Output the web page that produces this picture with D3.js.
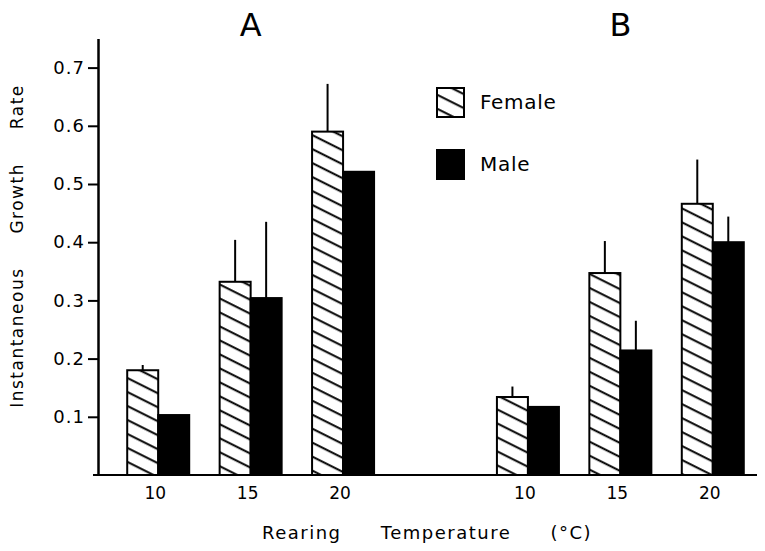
<!DOCTYPE html>
<html>
<head>
<meta charset="utf-8">
<script src="https://cdn.jsdelivr.net/npm/d3@7"></script>
<style>
  body { margin: 0; background: #fff; }
  text { font-family: "DejaVu Sans", sans-serif; fill: #000; }
</style>
</head>
<body>
<div id="chart"></div>
<script>
const panels = ["A", "B"];
const temps = [10, 15, 20];
const sexes = ["Female", "Male"];

// values (growth rate, top of error bar)
const femaleA = [0.180, 0.332, 0.590];
const femaleAErr = [0.189, 0.404, 0.672];
const maleA = [0.103, 0.304, 0.521];
const maleAErr = [null, 0.435, null];
const femaleB = [0.134, 0.347, 0.466];
const femaleBErr = [0.152, 0.402, 0.542];
const maleB = [0.117, 0.214, 0.400];
const maleBErr = [null, 0.265, 0.444];

const yTicks = [0.1, 0.2, 0.3, 0.4, 0.5, 0.6, 0.7];

const width = 765;
const height = 551;

const svg = d3.select("#chart")
    .append("svg")
    .attr("width", width)
    .attr("height", height);

// hatch for female bars
const defs = svg.append("defs");
defs.append("pattern")
    .attr("id", "hatch")
    .attr("patternUnits", "userSpaceOnUse")
    .attr("width", 10)
    .attr("height", 12.5)
    .attr("patternTransform", "rotate(26.6)")
    .append("line")
    .attr("x1", -1).attr("x2", 11)
    .attr("y1", 6).attr("y2", 6)
    .attr("stroke", "#000")
    .attr("stroke-width", 2);

// Scales
const slots = ["A10", "A15", "A20", "gap", "B10", "B15", "B20"];
const x = d3.scaleBand().domain(slots).range([112, 759]);
const xSex = d3.scaleBand().domain(sexes)
    .range([(x.bandwidth() - 62) / 2, (x.bandwidth() + 62) / 2]);

const y = d3.scaleLinear().domain([0, 0.75]).range([475, 38.5]);

const series = {
    A: { Female: [femaleA, femaleAErr], Male: [maleA, maleAErr] },
    B: { Female: [femaleB, femaleBErr], Male: [maleB, maleBErr] }
};

const rows = [];
panels.forEach(p => {
    temps.forEach((t, i) => {
        sexes.forEach(s => {
            rows.push({
                panel: p, temp: t, sex: s, slot: p + t,
                value: series[p][s][0][i],
                err: series[p][s][1][i]
            });
        });
    });
});

// Bars
svg.append("g")
    .selectAll("rect")
    .data(rows)
    .enter()
    .append("rect")
    .attr("x", d => x(d.slot) + xSex(d.sex))
    .attr("y", d => y(d.value))
    .attr("width", xSex.bandwidth())
    .attr("height", d => y(0) - y(d.value))
    .attr("fill", d => d.sex === "Female" ? "url(#hatch)" : "#000")
    .attr("stroke", "#000")
    .attr("stroke-width", 2);

// Error bars
svg.append("g")
    .selectAll("line")
    .data(rows.filter(d => d.err != null))
    .enter()
    .append("line")
    .attr("x1", d => x(d.slot) + xSex(d.sex) + xSex.bandwidth() / 2)
    .attr("x2", d => x(d.slot) + xSex(d.sex) + xSex.bandwidth() / 2)
    .attr("y1", d => y(d.value))
    .attr("y2", d => y(d.err))
    .attr("stroke", "#000")
    .attr("stroke-width", 2);

// Y axis
const yAxis = svg.append("g")
    .attr("transform", "translate(98,0)")
    .call(d3.axisLeft(y).tickValues(yTicks).tickFormat(d3.format(".1f"))
        .tickSize(10).tickSizeOuter(0).tickPadding(3));
yAxis.select(".domain").attr("stroke-width", 2.5);
yAxis.selectAll(".tick line").attr("stroke-width", 2);
yAxis.selectAll("text")
    .style("font-family", "DejaVu Sans")
    .style("font-size", "18px")
    .style("letter-spacing", "1px")
    .attr("fill", "#000");

// baseline
svg.append("line")
    .attr("x1", 93).attr("x2", 757)
    .attr("y1", y(0)).attr("y2", y(0))
    .attr("stroke", "#000")
    .attr("stroke-width", 2);

// X tick labels, one per bar group
svg.append("g")
    .selectAll("text")
    .data(rows.filter(d => d.sex === "Female"))
    .enter()
    .append("text")
    .attr("x", d => x(d.slot) + x.bandwidth() / 2 - 3)
    .attr("y", 499)
    .attr("text-anchor", "middle")
    .style("font-size", "17px")
    .text(d => d.temp);

// Panel letters
svg.append("g")
    .selectAll("text")
    .data(panels)
    .enter()
    .append("text")
    .attr("x", p => x(p + temps[1]) + x.bandwidth() / 2)
    .attr("y", 36)
    .attr("text-anchor", "middle")
    .style("font-size", "32px")
    .text(p => p);

// Axis titles
svg.append("text")
    .attr("transform", "translate(23,246) rotate(-90)")
    .attr("text-anchor", "middle")
    .style("font-size", "17px")
    .style("letter-spacing", "1.5px")
    .style("word-spacing", "27px")
    .text("Instantaneous Growth Rate");

svg.append("text")
    .attr("x", 427).attr("y", 539)
    .attr("text-anchor", "middle")
    .style("font-size", "18px")
    .style("letter-spacing", "1.5px")
    .style("word-spacing", "32px")
    .text("Rearing Temperature (°C)");

// Legend
const legend = svg.append("g")
    .selectAll("g")
    .data(sexes)
    .enter()
    .append("g")
    .attr("transform", (d, i) => `translate(437,${88 + i * 62})`);
legend.append("rect")
    .attr("width", 27)
    .attr("height", 29)
    .attr("fill", d => d === "Female" ? "url(#hatch)" : "#000")
    .attr("stroke", "#000")
    .attr("stroke-width", 2);
legend.append("text")
    .attr("x", 43)
    .attr("y", 21)
    .style("font-size", "20px")
    .style("letter-spacing", "0.7px")
    .text(d => d);
</script>
</body>
</html>
